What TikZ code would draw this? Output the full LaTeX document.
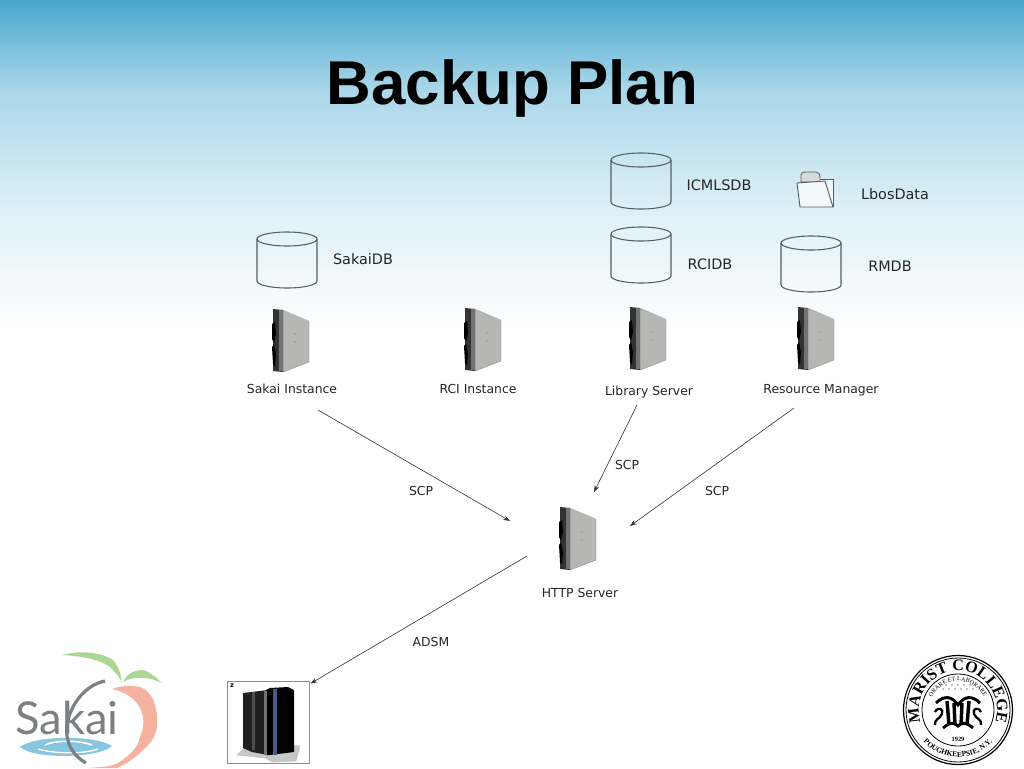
\documentclass[tikz,border=0pt]{standalone}
\usepackage{fontspec}
\setmainfont{DejaVu Sans}
\newfontfamily\titlefont{Liberation Sans}
\newfontfamily\logofont{Lato}
\newfontfamily\sealfont{Liberation Serif}
\usetikzlibrary{calc,arrows.meta,decorations.text}
\definecolor{bgtop}{RGB}{74,168,207}
\definecolor{bgmid}{RGB}{170,215,233}
\definecolor{bglow}{RGB}{222,240,247}
\definecolor{linegray}{RGB}{85,95,100}
\definecolor{panel}{RGB}{182,182,180}
\definecolor{leafgreen}{RGB}{170,215,150}
\definecolor{peach}{RGB}{245,178,160}
\definecolor{logogray}{RGB}{125,128,130}
\definecolor{water}{RGB}{135,198,222}
\definecolor{mfblue}{RGB}{70,90,140}
\tikzset{
  x=0.75pt,y=-0.75pt,
  lbl/.style={font=\fontsize{9.3pt}{11pt}\selectfont,text=black!85,inner sep=0pt,anchor=center,text height=7.5pt,text depth=2pt},
  dblbl/.style={lbl,font=\fontsize{10.8pt}{12pt}\selectfont},
  link/.style={draw=black!80,line width=0.45pt,-{Stealth[length=5pt,width=3.5pt]}},
  dbshape/.style={draw=linegray,line width=0.8pt,fill=none},
  server/.pic={
    \fill[panel] (10,1) -- (36,12) -- (36,53) -- (10,63) -- cycle;
    \draw[black!45,line width=0.3pt] (36,12) -- (36,53) -- (10,63);
    \fill[black!30] (8,0) -- (10,1) -- (36,12) -- (12,3) -- cycle;
    \fill[black!80] (0,0) -- (10,1) -- (10,63) -- (0,62) -- cycle;
    \fill[black!55] (6,1) rectangle (10,62);
    \fill[black] (-1,15) -- (2,13) -- (3,25) -- (1,34) -- (-1,30) -- cycle;
    \fill[black] (-1,38) -- (1,35) -- (3,45) -- (2,58) -- (0,55) -- cycle;
    \fill[black!55] (22,33) circle (0.7) (22,25) circle (0.7);
  },
  dbcyl/.pic={
    \draw[dbshape] (-30,-21) -- (-30,21) arc[start angle=180,end angle=0,x radius=30,y radius=7] -- (30,-21);
    \draw[dbshape] (0,-21) ellipse[x radius=30,y radius=7];
  }
}
\begin{document}
\begin{tikzpicture}
\useasboundingbox (0,0) rectangle (1024,768);
% background
\fill[white] (0,0) rectangle (1024,768);
\shade[top color=bgtop,bottom color=bgmid] (0,0) rectangle (1024,90);
\shade[top color=bgmid,bottom color=bglow] (0,90) rectangle (1024,210);
\shade[top color=bglow,bottom color=white] (0,210) rectangle (1024,330);
% title
\node[font=\titlefont\bfseries\fontsize{46.4pt}{50pt}\selectfont,inner sep=0pt,text=black] (title) at (512.5,89) {Backup Plan};
% databases
\path (287,260) pic {dbcyl};
\path (641,181) pic {dbcyl};
\path (641,255) pic {dbcyl};
\path (811,264) pic {dbcyl};
\node[dblbl] (sakaidb) at (363,260.5) {SakaiDB};
\node[dblbl] (icml) at (719,186.5) {ICMLSDB};
\node[dblbl] (rcidb) at (710,265.5) {RCIDB};
\node[dblbl] (rmdb) at (890,267.5) {RMDB};
\node[dblbl] (lbos) at (895,195.5) {LbosData};
% folder
\fill[white!85!black,draw=linegray,line width=0.6pt] (801,182) -- (801,175) .. controls (801,172) and (803,172) .. (806,172) -- (816,172) .. controls (819,172) and (820,174) .. (820,178) -- (820,182) -- cycle;
\fill[white,opacity=.6] (820,178) -- (833,180) -- (833,207) -- (820,207) -- cycle;
\draw[linegray,line width=0.6pt] (820,179) -- (833,179) -- (833,207);
\fill[white!60!bglow,draw=linegray,line width=0.7pt] (797,183) -- (825,181) -- (833,207) -- (800,207) -- cycle;
% servers
\path (273,309) pic {server};
\path (465,308) pic {server};
\path (630,307) pic {server};
\path (798,307) pic {server};
\path (560,507) pic {server};
\node[lbl] (sakai) at (292,390) {Sakai Instance};
\node[lbl] (rci) at (478,390) {RCI Instance};
\node[lbl] (lib) at (649,391.5) {Library Server};
\node[lbl] (rm) at (821,389.5) {Resource Manager};
\node[lbl] (http) at (580,594) {HTTP Server};
% mainframe
\node[draw=black!45,line width=0.7pt,fill=white,minimum width=61.5pt,minimum height=61.5pt,inner sep=0pt] (main) at (268,722) {};
\node[inner sep=0pt,font=\fontsize{5pt}{6pt}\selectfont\bfseries] (zlab) at (232,686) {z};
\fill[black!22,draw=black!25] (237,755) -- (246,747) -- (290,745) -- (300,746) -- (296,761) -- (272,762) -- (266,758) -- cycle;
\fill[black!88] (243,693) -- (268,690) -- (268,755) -- (252,752) -- (243,748) -- cycle;
\fill[black] (266,690) -- (270,688) -- (288,687) -- (294,690) -- (294,752) -- (270,755) -- (266,755) -- cycle;
\fill[black!70] (252,692) rectangle (255,750);
\fill[mfblue] (273,689) rectangle (277,755);
\fill[black!55] (264,691) rectangle (267,755);
% connectors
\coordinate (e1s) at ($(sakai)+(26,20)$);
\coordinate (e2s) at ($(lib)+(-12,13.5)$);
\coordinate (e3s) at ($(rm)+(-27,18.5)$);
\coordinate (e4s) at ($(http)+(-53,-38)$);
\coordinate (h1) at ($(http)+(-70,-73)$);
\coordinate (h2) at ($(http)+(14,-102)$);
\coordinate (h3) at ($(http)+(50,-68)$);
\coordinate (m1) at ($(main.north east)+(1,3)$);
\draw[link] (e1s) -- (h1);
\draw[link] (e2s) -- (h2);
\draw[link] (e3s) -- (h3);
\draw[link] (e4s) -- (m1);
\node[lbl] (scp1) at (421,492) {SCP};
\node[lbl] (scp2) at (627,466) {SCP};
\node[lbl] (scp3) at (717,492) {SCP};
\node[lbl] (adsm) at (431,643) {ADSM};
% Sakai logo
\fill[leafgreen] (62,655) .. controls (80,650) and (100,652) .. (113,660) .. controls (119,667) and (121,675) .. (122,682) .. controls (117,674) and (112,668) .. (107,665) .. controls (95,658) and (78,656) .. (62,655) -- cycle;
\fill[leafgreen] (123,682) .. controls (126,675) and (133,670) .. (143,670) .. controls (150,672) and (157,678) .. (162,683) .. controls (155,680) and (150,678) .. (143,678) .. controls (135,677) and (128,679) .. (123,682) -- cycle;
\fill[peach] (112,689) .. controls (120,686) and (130,685) .. (140,687) .. controls (152,691) and (158,705) .. (157,727) .. controls (155,738) and (150,744) .. (143,750) .. controls (135,758) and (126,764) .. (117,768) -- (88,768) .. controls (100,767) and (110,767) .. (118,763) .. controls (130,755) and (138,748) .. (140,737) .. controls (145,725) and (144,715) .. (140,708) .. controls (135,698) and (125,692) .. (112,689) -- cycle;
\fill[water] (20,747) .. controls (35,735) and (95,735) .. (112,746) .. controls (100,758) and (35,760) .. (20,747) -- cycle;
\draw[white,line width=1.2pt] (45,745) .. controls (55,740) and (80,740) .. (92,745);
\draw[white,line width=1pt] (38,749) .. controls (55,754) and (85,754) .. (98,749);
\draw[logogray,line width=2.4pt] (105,681) .. controls (85,685) and (70,705) .. (67,725) .. controls (65,742) and (72,755) .. (86,763);
\node[font=\logofont\fontsize{34pt}{38pt}\selectfont,text=logogray,inner sep=0pt] (sakailogo) at (67,718) {Sakai};
% Marist seal
\coordinate (seal) at (958,710);
\draw[black,line width=0.9pt] (seal) circle[radius=54.5];
\draw[black,line width=0.6pt] (seal) circle[radius=52];
\draw[black,line width=0.6pt] (seal) circle[radius=36];
\path[decorate,decoration={text along path,text align=center,text={|\sealfont\bfseries\fontsize{12pt}{14pt}\selectfont|MARIST COLLEGE}}] ($(seal)+(154:39)$) arc[start angle=154,end angle=386,radius=39];
\path[decorate,decoration={text along path,text align=center,text={|\sealfont\bfseries\fontsize{5.6pt}{7pt}\selectfont|POUGHKEEPSIE, N.Y.}}] ($(seal)+(148:47)$) arc[start angle=148,end angle=32,radius=47];
\path[decorate,decoration={text along path,text align=center,text={|\sealfont\fontsize{4.6pt}{5pt}\selectfont|ORARE ET LABORARE}}] ($(seal)+(200:29)$) arc[start angle=200,end angle=340,radius=29];
\foreach \a in {-12,-6,...,12}{\fill[black] ($(seal)+(\a,-25)$) circle (0.7);}
\foreach \a in {-15,-9,...,15}{\fill[black] ($(seal)+(\a,-21)$) circle (0.7);}
\begin{scope}[shift={(958,711)}]
\draw[black,line width=2.6pt] (-11,-10) -- (-9,14) (-4,-8) -- (-3,14) (4,-8) -- (3,14) (11,-10) -- (9,14);
\draw[black,line width=2.2pt] (-22,-8) .. controls (-14,-16) and (-6,-15) .. (0,-6) .. controls (6,-15) and (14,-16) .. (22,-8);
\draw[black,line width=1.7pt] (-23,1) .. controls (-20,-5) and (-14,-2) .. (-16,3) .. controls (-18,8) and (-24,8) .. (-23,14) (23,1) .. controls (20,-5) and (14,-2) .. (16,3) .. controls (18,8) and (24,8) .. (23,14);
\draw[black,line width=2.2pt] (-15,17) .. controls (-8,11) and (-4,11) .. (0,15) .. controls (4,11) and (8,11) .. (15,17);
\end{scope}
\node[font=\sealfont\bfseries\fontsize{4.8pt}{5pt}\selectfont,inner sep=0pt] (year) at (958,739) {1929};
\end{tikzpicture}
\end{document}
